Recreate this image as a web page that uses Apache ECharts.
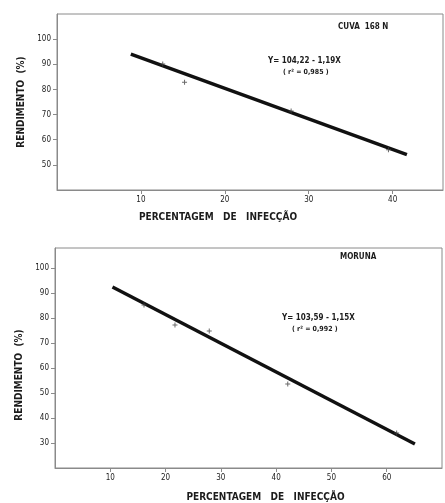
<!DOCTYPE html>
<html>
<head>
<meta charset="utf-8">
<script src="https://cdn.jsdelivr.net/npm/echarts@6/dist/echarts.min.js"></script>
<style>
  html, body { margin: 0; padding: 0; background: #fff; }
  #chart { width: 445px; height: 503px; }
</style>
</head>
<body>
<div id="chart"></div>
<script>
// top panel: CUVA 168 N
const cuvaPoints = [[12.6, 90.1], [15.2, 82.9], [27.9, 71.4], [39.5, 56.0]];
const cuvaFit = [[8.8, 94.0], [41.7, 54.1]];
const cuvaXTicks = [10, 20, 30, 40];
const cuvaYTicks = [50, 60, 70, 80, 90, 100];

// bottom panel: MORUNA
const morunaPoints = [[16.1, 85.2], [21.7, 77.2], [27.9, 74.8], [42.1, 53.6], [61.8, 34.0]];
const morunaFit = [[10.4, 92.4], [65.1, 29.6]];
const morunaXTicks = [10, 20, 30, 40, 50, 60];
const morunaYTicks = [30, 40, 50, 60, 70, 80, 90, 100];

const font = '"DejaVu Sans Condensed", "DejaVu Sans", sans-serif';
const ink = "#1c1c1c";
const frame = "#8a8a8a";
const cross = "path://M4,0H6V4H10V6H6V10H4V6H0V4H4Z";

// namePad nudges the axis title off the grid centre, like the hand-lettered original
function xAxis(gridIndex, min, max, ticks, namePad, nameGap) {
  return {
    type: "value",
    gridIndex,
    min,
    max,
    interval: 10,
    name: "PERCENTAGEM   DE   INFECÇÃO",
    nameLocation: "middle",
    nameGap,
    nameTextStyle: { color: ink, fontFamily: font, fontSize: 10, fontWeight: "bold", padding: namePad },
    axisLine: { show: true, lineStyle: { color: frame, width: 1 } },
    axisTick: { show: true, length: 4, customValues: ticks, lineStyle: { color: frame } },
    axisLabel: { color: ink, fontFamily: font, fontSize: 8, margin: 6, customValues: ticks },
    splitLine: { show: false },
  };
}

function yAxis(gridIndex, min, max, ticks, namePad) {
  return {
    type: "value",
    gridIndex,
    min,
    max,
    interval: 10,
    name: "RENDIMENTO  (%)",
    nameLocation: "middle",
    nameGap: 30,
    nameTextStyle: { color: ink, fontFamily: font, fontSize: 10, fontWeight: "bold", padding: namePad },
    axisLine: { show: true, lineStyle: { color: frame, width: 1 } },
    axisTick: { show: true, length: 4, customValues: ticks, lineStyle: { color: frame } },
    axisLabel: { color: ink, fontFamily: font, fontSize: 8, margin: 6, customValues: ticks },
    splitLine: { show: false },
  };
}

function fitSeries(idx, data) {
  return {
    type: "line",
    xAxisIndex: idx,
    yAxisIndex: idx,
    data,
    symbol: "none",
    lineStyle: { color: "#111", width: 3.5 },
    silent: true,
    z: 2,
  };
}

function pointSeries(idx, data) {
  return {
    type: "scatter",
    xAxisIndex: idx,
    yAxisIndex: idx,
    data,
    symbol: cross,
    symbolSize: 5,
    itemStyle: { color: "#444" },
    z: 3,
  };
}

function note(left, top, text, size) {
  return {
    type: "text",
    left,
    top,
    style: { text, fill: ink, font: `bold ${size}px ${font}` },
  };
}

const chart = echarts.init(document.getElementById("chart"));
chart.setOption({
  backgroundColor: "#fff",
  animation: false,
  grid: [
    { left: 57, right: 2, top: 14, height: 176, show: true, borderColor: frame, borderWidth: 1 },
    { left: 55, right: 3, top: 248, height: 222, show: true, borderColor: frame, borderWidth: 1 },
  ],
  xAxis: [
    xAxis(0, 0, 46, cuvaXTicks, [0, 64, 0, 0], 22),
    xAxis(1, 0, 70, morunaXTicks, [0, 0, 0, 34], 24),
  ],
  yAxis: [
    yAxis(0, 40, 110, cuvaYTicks, [0, 0, 0, 0]),
    yAxis(1, 20, 108, morunaYTicks, [0, 34, 0, 0]),
  ],
  series: [
    fitSeries(0, cuvaFit),
    pointSeries(0, cuvaPoints),
    fitSeries(1, morunaFit),
    pointSeries(1, morunaPoints),
  ],
  graphic: [
    note(338, 23, "CUVA  168 N", 8),
    note(268, 57, "Y= 104,22 - 1,19X", 8),
    note(283, 69, "( r² = 0,985 )", 7),
    note(340, 253, "MORUNA", 8),
    note(282, 314, "Y= 103,59 - 1,15X", 8),
    note(292, 326, "( r² = 0,992 )", 7),
  ],
});
</script>
</body>
</html>
